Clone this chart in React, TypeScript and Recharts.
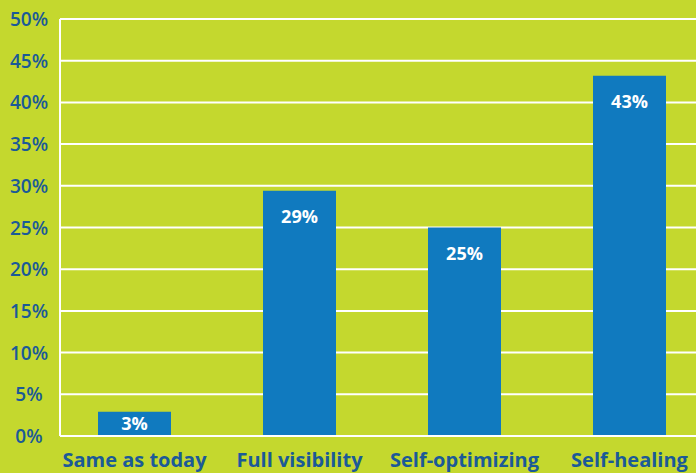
import { BarChart, Bar, XAxis, YAxis, CartesianGrid, LabelList } from "recharts";

const categories = ["Same as today", "Full visibility", "Self-optimizing", "Self-healing"];
const shares = [2.9, 29.4, 25, 43.2];
const shareLabels = ["3%", "29%", "25%", "43%"];
const yTicks = [0, 5, 10, 15, 20, 25, 30, 35, 40, 45, 50];

const COLORS = {
  fundo: "#c4d82e",
  barra: "#107abf",
  texto: "#1b5a97",
  grade: "#ffffff",
};

const FONT = "'Open Sans', 'DejaVu Sans', sans-serif";

const data = categories.map((nome, i) => ({
  nome,
  valor: shares[i],
  rotulo: shareLabels[i],
}));

function YTick(props: any) {
  const { y, payload } = props;
  return (
    <text x={29} y={y} dy={7} textAnchor="middle" fill={COLORS.texto} fontFamily={FONT} fontSize={19} fontWeight={600}>
      {payload.value}%
    </text>
  );
}

function XTick(props: any) {
  const { x, payload } = props;
  return (
    <text x={x} y={467} textAnchor="middle" fill={COLORS.texto} fontFamily={FONT} fontSize={20} fontWeight={700}>
      {payload.value}
    </text>
  );
}

// rótulo dentro da barra; em barras baixas fica centralizado
function ValueLabel(props: any) {
  const { x, y, width, height, value } = props;
  const dy = Math.min(26, height / 2);
  return (
    <text
      x={x + width / 2}
      y={y + dy}
      dy={6}
      textAnchor="middle"
      fill="#ffffff"
      fontFamily={FONT}
      fontSize={18}
      fontWeight={700}
    >
      {value}
    </text>
  );
}

export default function App() {
  return (
    <div style={{ position: "absolute", left: 0, top: 0, width: 696, height: 473, background: COLORS.fundo }}>
      <BarChart width={696} height={473} data={data} margin={{ top: 19, right: 0, bottom: 0, left: 0 }}>
        <CartesianGrid vertical={false} stroke={COLORS.grade} strokeWidth={2} />
        <XAxis
          dataKey="nome"
          height={37}
          interval={0}
          padding={{ left: -8, right: -16 }}
          axisLine={{ stroke: COLORS.grade, strokeWidth: 2 }}
          tickLine={false}
          tick={<XTick />}
        />
        <YAxis
          width={60}
          domain={[0, 50]}
          ticks={yTicks}
          interval={0}
          axisLine={{ stroke: COLORS.grade, strokeWidth: 2 }}
          tickLine={false}
          tick={<YTick />}
        />
        <Bar dataKey="valor" fill={COLORS.barra} barSize={73} isAnimationActive={false}>
          <LabelList dataKey="rotulo" content={<ValueLabel />} />
        </Bar>
      </BarChart>
    </div>
  );
}
